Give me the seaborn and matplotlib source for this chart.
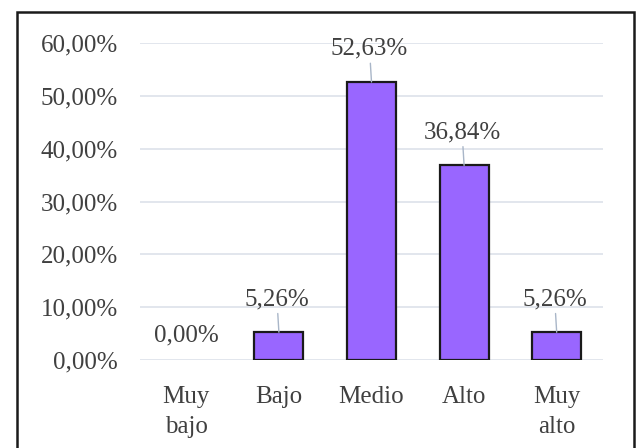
import matplotlib
matplotlib.use("Agg")
import matplotlib.pyplot as plt
from matplotlib.ticker import FuncFormatter
from matplotlib.patches import Rectangle
import pandas as pd
import seaborn as sns

categories = ["Muy\nbajo", "Bajo", "Medio", "Alto", "Muy\nalto"]
values = [0.0, 0.0526, 0.5263, 0.3684, 0.0526]
yticks = [0.0, 0.1, 0.2, 0.3, 0.4, 0.5, 0.6]

sns.set_style("white")
plt.rcParams["font.family"] = ["Liberation Serif", "DejaVu Serif"]

text_color = "#404040"
fs = 18
df = pd.DataFrame({"nivel": categories, "pct": values})

fig = plt.figure(figsize=(6.37, 4.48), dpi=100)
ax = fig.add_axes([0.2198, 0.1964, 0.7268, 0.7076])

sns.barplot(data=df, x="nivel", y="pct", color="#9966FF", saturation=1,
            width=0.53, edgecolor="#1a1a1a", linewidth=1.6, ax=ax, zorder=3)
for bar in ax.patches:
    if bar.get_height() == 0:
        bar.set_linewidth(0)

ax.set_ylim(0, 0.6)
ax.set_xlim(-0.5, len(categories) - 0.5)
ax.set_yticks(yticks)
ax.yaxis.set_major_formatter(FuncFormatter(lambda v, p: f"{v*100:.2f}%".replace(".", ",")))
ax.grid(axis="y", color="#dde2ea", linewidth=1.2, zorder=0)
ax.set_axisbelow(True)
for s in ax.spines.values():
    s.set_visible(False)
ax.set_xlabel("")
ax.set_ylabel("")
ax.tick_params(axis="y", length=0, pad=16, labelsize=fs, labelcolor=text_color)
ax.tick_params(axis="x", length=0, pad=19, labelsize=fs, labelcolor=text_color)
for lbl in ax.get_xticklabels():
    lbl.set_linespacing(1.45)

for i, v in enumerate(values):
    txt = f"{v*100:.2f}%".replace(".", ",")
    if v == 0:
        ax.annotate(txt, xy=(i, v), xytext=(0, 25), textcoords="offset pixels",
                    ha="center", va="center", fontsize=fs, color=text_color)
    else:
        ax.annotate(txt, xy=(i, v), xytext=(-2, 33), textcoords="offset pixels",
                    ha="center", va="center", fontsize=fs, color=text_color,
                    arrowprops=dict(arrowstyle="-", color="#a9b6c8", lw=1.0,
                                    shrinkA=0, shrinkB=0))

fig.patches.append(Rectangle((17 / 637, -0.02), 617 / 637, 1 - 12 / 448 + 0.02,
                             transform=fig.transFigure, fill=False,
                             edgecolor="#1a1a1a", linewidth=1.8))

fig.savefig("out.png", dpi=100)
